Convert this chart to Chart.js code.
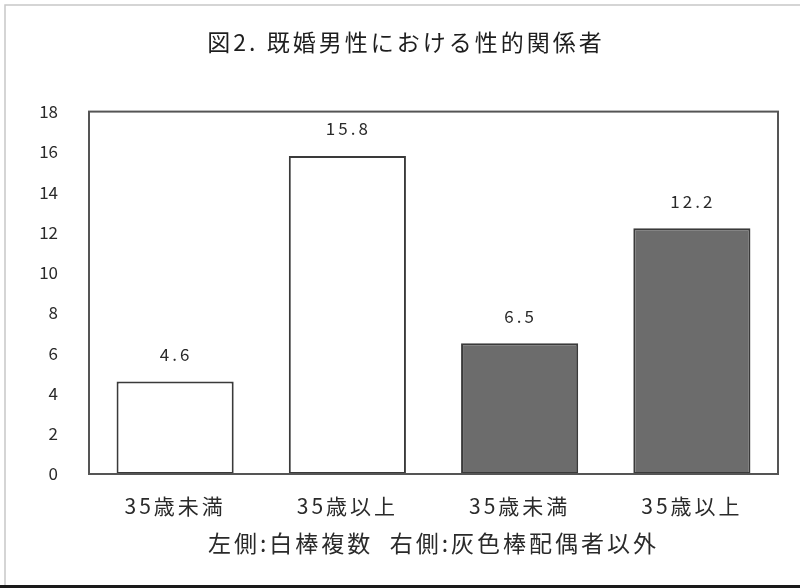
<!DOCTYPE html>
<html>
<head>
<meta charset="utf-8">
<script src="https://cdn.jsdelivr.net/npm/chart.js@4.4.1/dist/chart.umd.min.js"></script>
<style>
  html, body { margin: 0; padding: 0; background: #fff; }
  #wrap { width: 800px; height: 585px; border-bottom: 3px solid #1a1a1a; }
</style>
</head>
<body>
<div id="wrap"><canvas id="c" width="800" height="585"></canvas></div>
<script>
const labels = ["35歳未満", "35歳以上", "35歳未満", "35歳以上"];
const values = [4.6, 15.8, 6.5, 12.2];
const fills = ["#ffffff", "#ffffff", "#6c6c6c", "#6c6c6c"];
const yTicks = [0, 2, 4, 6, 8, 10, 12, 14, 16, 18];

const FONT = "'Noto Sans CJK JP', 'Noto Sans', sans-serif";

// the scanned original has wide letter spacing; keep the right-aligned y ticks tight
const spacing = {
  id: "spacing",
  beforeDraw(chart) {
    const ctx = chart.ctx;
    // faint page frame from the scan
    ctx.save();
    ctx.strokeStyle = "#c8c8c8";
    ctx.lineWidth = 1.5;
    ctx.strokeRect(5, 5, 820, 620);
    ctx.restore();
    if (ctx._spaced) return;
    const fill = ctx.fillText;
    ctx.fillText = function (t, x, y, w) {
      const old = this.letterSpacing;
      this.letterSpacing = this.textAlign === "right" ? "0px" : "3px";
      if (w === undefined) fill.call(this, t, x, y); else fill.call(this, t, x, y, w);
      this.letterSpacing = old;
    };
    ctx._spaced = true;
  }
};

// frame round the plot area
const frame = {
  id: "frame",
  afterDatasetsDraw(chart) {
    const a = chart.chartArea, ctx = chart.ctx;
    ctx.save();
    ctx.strokeStyle = "#555";
    ctx.lineWidth = 2;
    ctx.strokeRect(a.left, a.top, a.right - a.left, a.bottom - a.top);
    ctx.restore();
  }
};

// value labels above the bars
const valueLabels = {
  id: "valueLabels",
  afterDatasetsDraw(chart) {
    const ctx = chart.ctx;
    const meta = chart.getDatasetMeta(0);
    ctx.save();
    ctx.font = "17px " + FONT;
    ctx.fillStyle = "#2a2a2a";
    ctx.textAlign = "center";
    ctx.textBaseline = "middle";
    meta.data.forEach((bar, i) => {
      ctx.fillText(values[i].toFixed(1), bar.x + 1, bar.y - 27);
    });
    ctx.restore();
  }
};

new Chart(document.getElementById("c"), {
  type: "bar",
  data: {
    labels: labels,
    datasets: [{
      data: values,
      backgroundColor: fills,
      borderColor: "#3a3a3a",
      borderWidth: 2,
      borderSkipped: false,
      barPercentage: 0.68,
      categoryPercentage: 1.0
    }]
  },
  options: {
    responsive: false,
    animation: false,
    layout: { padding: { left: 34, right: 22, top: 0, bottom: 0 } },
    plugins: {
      legend: { display: false },
      tooltip: { enabled: false },
      title: {
        display: true,
        text: "図2. 既婚男性における性的関係者",
        color: "#1e1e1e",
        font: { family: FONT, size: 23, weight: "normal" },
        padding: { top: 28, bottom: 56 }
      }
    },
    scales: {
      x: {
        afterFit(scale) { scale.height = 111; },
        grid: { display: false, drawTicks: false },
        border: { display: false },
        ticks: {
          color: "#2a2a2a",
          font: { family: FONT, size: 21 },
          padding: 19,
          maxRotation: 0,
          autoSkip: false
        },
        title: {
          display: true,
          text: "左側:白棒複数  右側:灰色棒配偶者以外",
          color: "#2a2a2a",
          font: { family: FONT, size: 23 },
          padding: { top: 10, bottom: 28 }
        }
      },
      y: {
        min: 0,
        max: 18,
        afterFit(scale) { scale.width = 55; },
        afterBuildTicks(scale) { scale.ticks = yTicks.map(v => ({ value: v })); },
        grid: { display: false, drawTicks: false },
        border: { display: false },
        ticks: {
          color: "#2a2a2a",
          font: { family: FONT, size: 17 },
          padding: 31
        }
      }
    }
  },
  plugins: [spacing, frame, valueLabels]
});
</script>
</body>
</html>
